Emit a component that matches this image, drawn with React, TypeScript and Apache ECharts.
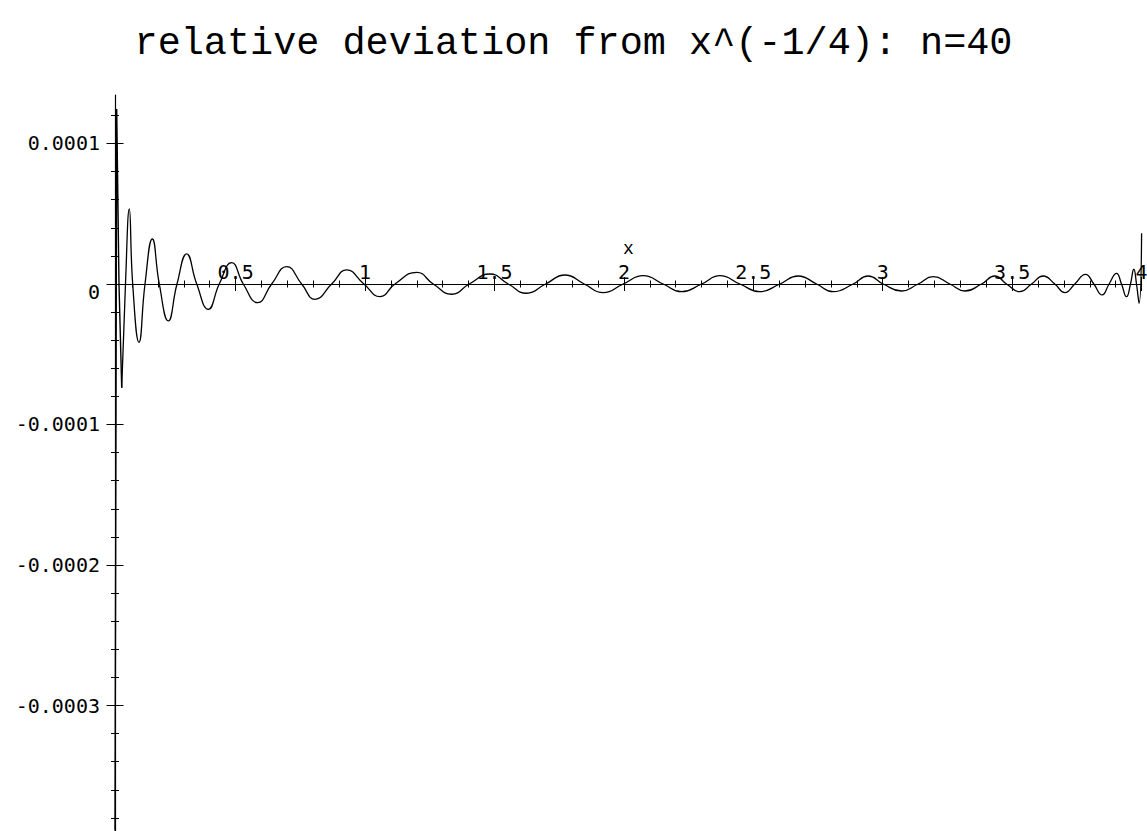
import React, { useEffect, useRef } from "react";
import * as echarts from "echarts";

const titleText = "relative deviation from x^(-1/4): n=40";
const xName = "x";
const xMin = 0.034;
const xMax = 4;
const yMin = -0.0003893;
const yMax = 0.0001345;

const xMajorTicks = [0.5, 1, 1.5, 2, 2.5, 3, 3.5, 4];
const xMinorTicks = [
  0.1, 0.2, 0.3, 0.4, 0.6, 0.7, 0.8, 0.9, 1.1, 1.2, 1.3, 1.4, 1.6, 1.7, 1.8, 1.9,
  2.1, 2.2, 2.3, 2.4, 2.6, 2.7, 2.8, 2.9, 3.1, 3.2, 3.3, 3.4, 3.6, 3.7, 3.8, 3.9,
];
const yMajorTicks = [-0.0003, -0.0002, -0.0001, 0, 0.0001];
const yMinorTicks = [
  -0.00038, -0.00036, -0.00034, -0.00032, -0.00028, -0.00026, -0.00024, -0.00022,
  -0.00018, -0.00016, -0.00014, -0.00012, -0.00008, -0.00006, -0.00004, -0.00002,
  0.00002, 0.00004, 0.00006, 0.00008, 0.00012,
];

// steep first part near the left edge
const spikeX = [0.034, 0.0406, 0.0494, 0.0599];
const spikeY = [-3.89e-4, 1.245e-4, 0, -73.8e-6];

// oscillating part: extrema and zero crossings
const waveX = [
  0.0599, 0.0745, 0.0892, 0.1024, 0.1267, 0.1499, 0.1781, 0.2051, 0.2399, 0.2735,
  0.3109, 0.3496, 0.3944, 0.4368, 0.4847, 0.5296, 0.5852, 0.6392, 0.6972, 0.7551,
  0.8065, 0.871, 0.9289, 0.9957, 1.0576, 1.1155, 1.1993, 1.2634, 1.3345, 1.4025,
  1.4824, 1.5531, 1.6242, 1.6976, 1.7721, 1.8467, 1.92, 1.9973, 2.0745, 2.1518,
  2.2229, 2.3001, 2.3708, 2.4481, 2.5247, 2.6025, 2.6733, 2.7443, 2.8084, 2.8857,
  2.9436, 3.0016, 3.0726, 3.1368, 3.1947, 3.2592, 3.3172, 3.3816, 3.433, 3.4782,
  3.5296, 3.5748, 3.6196, 3.6648, 3.7034, 3.742, 3.7833, 3.8154, 3.8474, 3.8745,
  3.9031, 3.9224, 3.9417, 3.9571, 3.9699, 3.9803, 3.9903, 4.0,
];
const waveY = [
  -73.8e-6, 0, 53.4e-6, 0, -41.5e-6, 0, 32.0e-6, 0, -26.3e-6, 0,
  21.4e-6, 0, -18.0e-6, 0, 15.2e-6, 0, -13.3e-6, 0, 12.3e-6, 0,
  -10.9e-6, 0, 10.0e-6, 0, -9.0e-6, 0, 8.3e-6, 0, -7.3e-6, 0,
  7.1e-6, 0, -6.6e-6, 0, 6.4e-6, 0, -6.2e-6, 0, 5.9e-6, 0,
  -5.5e-6, 0, 5.9e-6, 0, -5.5e-6, 0, 5.7e-6, 0, -5.5e-6, 0,
  5.7e-6, 0, -5.0e-6, 0, 5.2e-6, 0, -5.0e-6, 0, 5.7e-6, 0,
  -5.5e-6, 0, 5.7e-6, 0, -6.2e-6, 0, 6.9e-6, 0, -7.8e-6, 0,
  7.6e-6, 0, -9.0e-6, 0, 10.5e-6, 0, -13.7e-6, 36.1e-6,
];

const labelFont = "DejaVu Sans Mono";
const monoFont = "Liberation Mono";

const W = 1147;
const H = 831;
const GRID = { left: 115, right: 5.4, top: 95, bottom: 0 };

export default function App() {
  const ref = useRef<HTMLDivElement>(null);

  useEffect(() => {
    if (!ref.current) return;
    const chart = echarts.init(ref.current, undefined, { renderer: "svg" });

    // distance (px) from the grid bottom up to the y = 0 line
    const gridH = H - GRID.top - GRID.bottom;
    const zeroUp = (gridH * (0 - yMin)) / (yMax - yMin);

    const xBase = (extra: any) => ({
      type: "value",
      min: xMin,
      max: xMax,
      position: "bottom",
      offset: -zeroUp,
      splitLine: { show: false },
      axisLine: { show: false, onZero: false },
      axisLabel: { show: false },
      axisTick: { show: false },
      ...extra,
    });
    const yBase = (extra: any) => ({
      type: "value",
      min: yMin,
      max: yMax,
      position: "left",
      splitLine: { show: false },
      axisLine: { show: false, onZero: false },
      axisLabel: { show: false },
      axisTick: { show: false },
      ...extra,
    });

    const tick = (vals: number[], len: number, inside: boolean) => ({
      show: true,
      customValues: vals,
      length: len,
      inside,
      lineStyle: { color: "#000", width: 1 },
    });

    const option: any = {
      animation: false,
      backgroundColor: "#ffffff",
      title: {
        text: titleText,
        left: "center",
        top: 19,
        textStyle: {
          fontFamily: monoFont,
          fontSize: 38.5,
          fontWeight: "normal",
          color: "#000",
        },
      },
      grid: { ...GRID, containLabel: false, outerBoundsMode: "none" },
      xAxis: [
        xBase({
          name: xName,
          nameLocation: "middle",
          nameGap: -34.5,
          nameMoveOverlap: false,
          nameTextStyle: {
            fontFamily: monoFont,
            fontSize: 18,
            color: "#000",
            verticalAlign: "middle",
          },
          axisLine: { show: true, onZero: false, lineStyle: { color: "#000", width: 1.2 } },
          axisTick: tick(xMajorTicks, 7, false),
          axisLabel: {
            show: true,
            inside: true,
            margin: 2,
            customValues: xMajorTicks,
            formatter: (v: number) => String(v),
            fontFamily: labelFont,
            fontSize: 20,
            color: "#000",
          },
        }),
        xBase({ axisTick: tick(xMajorTicks, 7, true) }),
        xBase({ axisTick: tick(xMinorTicks, 3.5, false) }),
        xBase({ axisTick: tick(xMinorTicks, 3.5, true) }),
      ],
      yAxis: [
        yBase({
          axisLine: { show: true, onZero: false, lineStyle: { color: "#000", width: 1.2 } },
          axisTick: tick(yMajorTicks, 8.5, false),
          axisLabel: {
            show: true,
            margin: 15,
            customValues: yMajorTicks,
            formatter: (v: number) => (v === 0 ? "{z|0}" : v.toFixed(4)),
            fontFamily: labelFont,
            fontSize: 20,
            color: "#000",
            rich: {
              z: { fontFamily: labelFont, fontSize: 20, color: "#000", padding: [16, 0, 0, 0] },
            },
          },
        }),
        yBase({ axisTick: tick(yMajorTicks, 8.5, true) }),
        yBase({ axisTick: tick(yMinorTicks, 4, false) }),
        yBase({ axisTick: tick(yMinorTicks, 4, true) }),
      ],
      series: [
        {
          type: "line",
          xAxisIndex: 0,
          yAxisIndex: 0,
          data: spikeX.map((x, i) => [x, spikeY[i]]),
          symbol: "none",
          showSymbol: false,
          silent: true,
          lineStyle: { color: "#000", width: 1.4 },
        },
        {
          type: "line",
          xAxisIndex: 0,
          yAxisIndex: 0,
          data: waveX.map((x, i) => [x, waveY[i]]),
          smooth: 0.5,
          symbol: "none",
          showSymbol: false,
          silent: true,
          lineStyle: { color: "#000", width: 1.3 },
        },
      ],
    };

    chart.setOption(option);
    return () => chart.dispose();
  }, []);

  return (
    <div
      ref={ref}
      style={{ position: "absolute", left: 0, top: 0, width: W, height: H, background: "#fff" }}
    />
  );
}
